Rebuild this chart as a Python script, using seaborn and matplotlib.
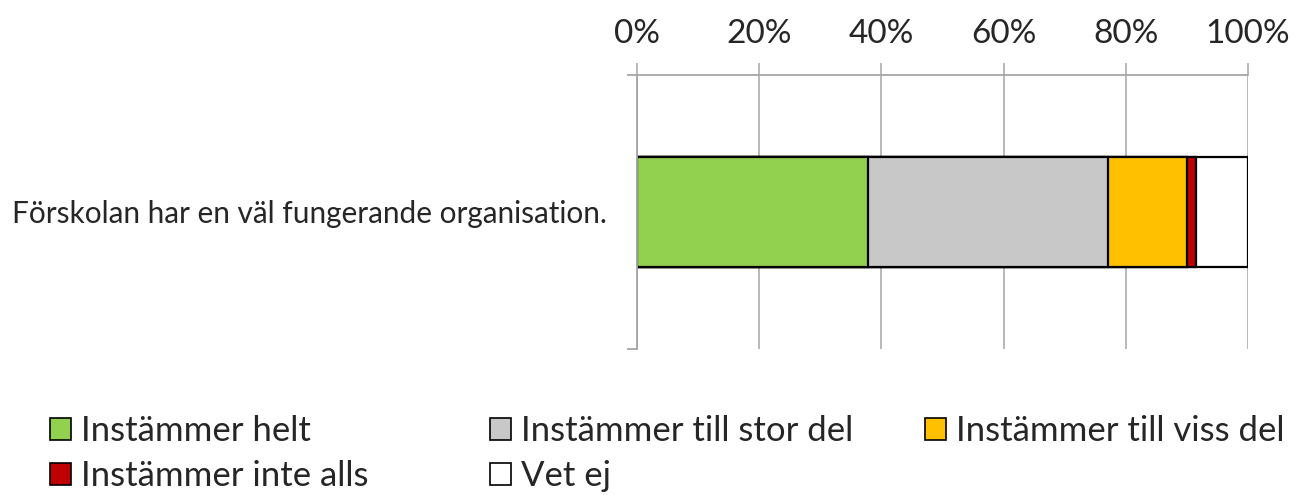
"""Stacked 100% horizontal bar: organisation survey answer."""

import matplotlib.pyplot as plt
import numpy as np
import pandas as pd
import seaborn as sns
from matplotlib.patches import Patch
from matplotlib.ticker import FixedLocator, PercentFormatter

# data
question = ["Förskolan har en väl fungerande organisation."]
answers = [
    "Instämmer helt",
    "Instämmer till stor del",
    "Instämmer till viss del",
    "Instämmer inte alls",
    "Vet ej",
]
shares = [37.8, 39.3, 12.9, 1.5, 8.5]
colors = ["#92D050", "#C8C8C8", "#FFC000", "#C00000", "#FFFFFF"]

sns.set_style("white")
plt.rcParams["font.family"] = ["Lato", "DejaVu Sans"]

df = pd.DataFrame({"answer": answers, "share": shares, "color": colors})
df["cum"] = np.cumsum(df["share"])
df["question"] = question[0]

fig = plt.figure(figsize=(13.06, 4.95), dpi=100)
ax = fig.add_axes([637 / 1306, 1 - 349 / 495, 611 / 1306, 274 / 495])

# draw cumulative totals from the longest down so each segment sits on top
for _, row in df.iloc[::-1].iterrows():
    sns.barplot(
        x=[row["cum"]], y=[row["question"]], orient="h", ax=ax,
        color=row["color"], saturation=1, width=0.4,
        edgecolor="black", linewidth=1.6,
    )

ax.set_xlim(0, 100)
ax.set_ylim(0.5, -0.5)
ax.xaxis.tick_top()
ax.set_xticks(np.arange(0, 101, 20))
ax.xaxis.set_major_formatter(PercentFormatter(decimals=0))
ax.grid(axis="x", color="#A6A6A6", linewidth=1.1)
ax.set_axisbelow(True)
ax.tick_params(axis="x", which="major", length=9, width=1.1, color="#A6A6A6",
               labelsize=24, pad=10, direction="out")
ax.tick_params(axis="y", which="major", left=False, length=0,
               labelsize=21.4, pad=22)
ax.yaxis.set_minor_locator(FixedLocator([-0.5, 0.5]))
ax.tick_params(axis="y", which="minor", left=True, length=7, width=1.3,
               color="#A6A6A6", direction="out")
ax.set_xlabel("")
ax.set_ylabel("")

for side in ["right", "bottom"]:
    ax.spines[side].set_visible(False)
for side in ["top", "left"]:
    ax.spines[side].set_color("#A6A6A6")
    ax.spines[side].set_linewidth(1.3)

# legend laid out in three columns like the original
handles = [Patch(facecolor=c, edgecolor="black", linewidth=1.2, label=a)
           for a, c in zip(answers, colors)]
columns = [[0, 3], [1, 4], [2]]
col_x = [50, 490, 925]
for idx, x0 in zip(columns, col_x):
    fig.legend(
        handles=[handles[i] for i in idx], loc="upper left",
        bbox_to_anchor=(x0 / 1306, 1 - 415 / 495), frameon=False,
        fontsize=25, handlelength=0.6, handleheight=0.6,
        handletextpad=0.3, labelspacing=0.38, borderpad=0, borderaxespad=0,
    )

fig.savefig("out.png", dpi=100)
